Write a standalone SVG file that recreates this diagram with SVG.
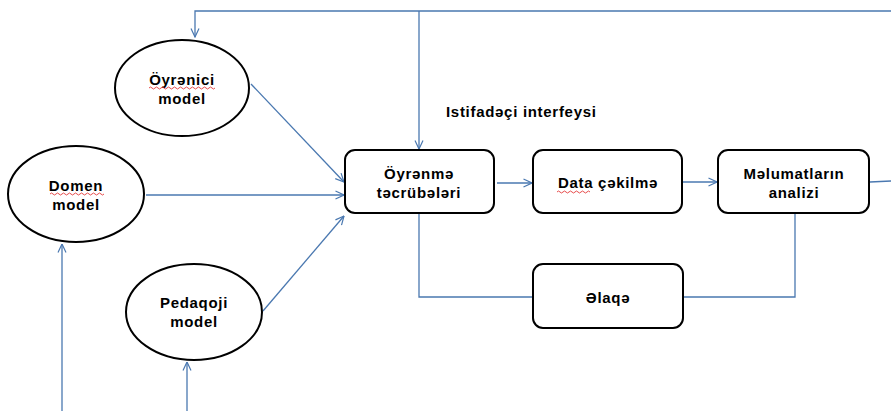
<svg xmlns="http://www.w3.org/2000/svg" width="891" height="411" viewBox="0 0 891 411">
<style>
.n{fill:#fff;stroke:#000;stroke-width:2}
.t{font-family:"Liberation Sans",Arial,sans-serif;font-weight:bold;font-size:15px;letter-spacing:0.7px;fill:#000;text-anchor:middle}
.c{fill:none;stroke:#4a78b0;stroke-width:1.3}
.sq{fill:none;stroke:#e02020;stroke-width:0.8}
</style>
<defs>
<marker id="a" viewBox="0 0 10 10" refX="9.5" refY="5" markerWidth="10" markerHeight="10" markerUnits="userSpaceOnUse" orient="auto">
<path d="M1,1 L9.5,5 L1,9" fill="none" stroke="#4a78b0" stroke-width="1.2"/>
</marker>
</defs>
<rect width="891" height="411" fill="#fff"/>
<g id="connectors">
<path class="c" d="M891,11 H195 V37" marker-end="url(#a)"/>
<path class="c" d="M419,11 V149" marker-end="url(#a)"/>
<path class="c" d="M251,84 L344,182" marker-end="url(#a)"/>
<path class="c" d="M146,195 H344" marker-end="url(#a)"/>
<path class="c" d="M263,311 L344,216" marker-end="url(#a)"/>
<path class="c" d="M62,411 V244" marker-end="url(#a)"/>
<path class="c" d="M187,411 V362" marker-end="url(#a)"/>
<path class="c" d="M497,183 H532" marker-end="url(#a)"/>
<path class="c" d="M683,182 H717" marker-end="url(#a)"/>
<path class="c" d="M870,182 L891,181"/>
<path class="c" d="M419,214 V297 H533"/>
<path class="c" d="M683,297 H795 V214"/>
</g>
<text class="t" x="446" y="117" style="text-anchor:start">Istifadəçi interfeysi</text>
<g id="oyrenici">
<ellipse class="n" cx="182" cy="88" rx="67" ry="48"/>
<text class="t" x="182" y="85">Öyrənici</text>
<text class="t" x="182" y="104">model</text>
<path class="sq" d="M149,88 q1.5,-2 3,0 t3,0 t3,0 t3,0 t3,0 t3,0 t3,0 t3,0 t3,0 t3,0 t3,0 t3,0 t3,0 t3,0 t3,0 t3,0 t3,0 t3,0 t3,0 t3,0 t3,0 t3,0"/>
</g>
<g id="domen">
<ellipse class="n" cx="76" cy="194" rx="68" ry="48"/>
<text class="t" x="76" y="191">Domen</text>
<text class="t" x="76" y="210">model</text>
<path class="sq" d="M50,194 q1.5,-2 3,0 t3,0 t3,0 t3,0 t3,0 t3,0 t3,0 t3,0 t3,0 t3,0 t3,0 t3,0 t3,0 t3,0 t3,0 t3,0 t3,0 t3,0"/>
</g>
<g id="pedaqoji">
<ellipse class="n" cx="194" cy="312" rx="68" ry="48"/>
<text class="t" x="194" y="308">Pedaqoji</text>
<text class="t" x="194" y="327">model</text>
</g>
<g id="oyrenme">
<rect class="n" x="345" y="150" width="149" height="63" rx="10"/>
<text class="t" x="419" y="179">Öyrənmə</text>
<text class="t" x="419" y="198">təcrübələri</text>
</g>
<g id="data">
<rect class="n" x="533" y="150" width="149" height="63" rx="10"/>
<text class="t" x="608" y="188">Data çəkilmə</text>
<path class="sq" d="M557,192 q1.5,-2 3,0 t3,0 t3,0 t3,0 t3,0 t3,0 t3,0 t3,0 t3,0 t3,0 t3,0"/>
</g>
<g id="melumat">
<rect class="n" x="718" y="150" width="151" height="63" rx="10"/>
<text class="t" x="794" y="179">Məlumatların</text>
<text class="t" x="794" y="198">analizi</text>
</g>
<g id="elaqe">
<rect class="n" x="533" y="264" width="150" height="64" rx="10"/>
<text class="t" x="608" y="303">Əlaqə</text>
</g>
</svg>
